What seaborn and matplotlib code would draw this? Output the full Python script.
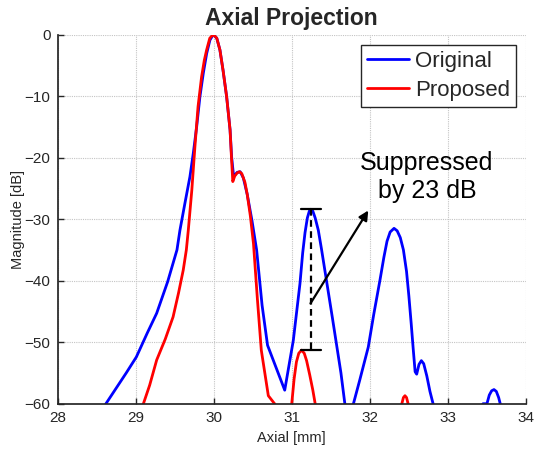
import numpy as np
import pandas as pd
import seaborn as sns
import matplotlib
matplotlib.use('Agg')
import matplotlib.pyplot as plt

# -------------------------------------------------------
# Axial projection data (dB)
# -------------------------------------------------------
orig_x = [28.50, 28.62, 28.75, 28.88, 29.01, 29.15, 29.27, 29.41, 29.53, 29.568,
          29.632, 29.696, 29.739, 29.782, 29.824, 29.867, 29.91, 29.952, 29.995, 30.04,
          30.08, 30.12, 30.166, 30.21, 30.23, 30.255, 30.275, 30.30, 30.34, 30.38,
          30.43, 30.49, 30.55, 30.62, 30.69, 30.91, 31.02, 31.105, 31.14, 31.17,
          31.20, 31.225, 31.245, 31.27, 31.30, 31.34, 31.38, 31.42, 31.47, 31.52,
          31.575, 31.63, 31.68, 31.735, 31.79, 31.87, 31.98, 32.05, 32.13, 32.18,
          32.22, 32.26, 32.31, 32.35, 32.39, 32.43, 32.47, 32.50, 32.53, 32.555,
          32.58, 32.60, 32.63, 32.66, 32.69, 32.73, 32.77, 32.81, 32.85, 33.10,
          33.45, 33.50, 33.53, 33.56, 33.59, 33.62, 33.65, 33.67, 33.72]
orig_db = [-63.0, -60.0, -57.5, -55.0, -52.4, -48.5, -45.3, -40.2, -35.0, -31.8,
           -27.4, -23.1, -19.3, -15.0, -10.1, -6.3, -3.1, -0.9, 0.0, -0.6,
           -2.5, -5.8, -10.1, -15.5, -19.9, -23.0, -22.8, -22.4, -22.3, -23.3,
           -26.0, -30.2, -35.0, -44.0, -50.5, -57.8, -49.7, -40.5, -35.5, -32.2,
           -29.8, -28.7, -28.4, -28.7, -29.8, -31.8, -34.8, -38.0, -42.0, -46.0,
           -50.5, -55.0, -60.0, -63.0, -60.0, -56.2, -50.8, -45.5, -39.9, -36.2,
           -33.6, -32.1, -31.5, -31.9, -33.0, -35.0, -38.5, -42.5, -47.0, -51.0,
           -54.8, -55.2, -53.6, -53.0, -53.5, -55.5, -58.0, -60.0, -63.0, -70.0,
           -60.0, -60.0, -58.6, -57.9, -57.7, -58.0, -59.0, -60.0, -62.0]

prop_x = [29.05, 29.10, 29.18, 29.27, 29.38, 29.48, 29.55, 29.61, 29.65, 29.675,
          29.72, 29.76, 29.80, 29.845, 29.88, 29.91, 29.95, 29.995, 30.04, 30.08,
          30.12, 30.166, 30.21, 30.228, 30.245, 30.27, 30.30, 30.33, 30.36, 30.40,
          30.43, 30.47, 30.51, 30.56, 30.61, 30.70, 30.78, 30.85, 30.95, 31.00,
          31.03, 31.06, 31.09, 31.125, 31.16, 31.19, 31.23, 31.27, 31.30, 31.35,
          32.35, 32.41, 32.43, 32.45, 32.47, 32.49, 32.55]
prop_db = [-62.0, -60.0, -57.0, -52.9, -49.5, -45.9, -42.0, -38.3, -35.0, -31.8,
           -25.3, -18.2, -11.7, -6.9, -4.2, -2.5, -0.6, 0.0, -0.6, -2.5,
           -5.8, -10.1, -15.5, -20.0, -23.9, -23.0, -22.5, -22.3, -22.6, -24.0,
           -26.0, -29.5, -34.0, -43.0, -51.3, -58.7, -60.0, -62.0, -62.0, -60.0,
           -56.0, -53.2, -51.8, -51.3, -51.8, -53.0, -55.3, -57.8, -60.0, -64.0,
           -64.0, -60.0, -59.0, -58.7, -59.0, -60.0, -64.0]

labels = ['Original', 'Proposed']
colors = {'Original': 'blue', 'Proposed': 'red'}

# annotation values
peak_orig = -28.4
peak_prop = -51.3
bracket_x = 31.245

df = pd.concat([
    pd.DataFrame({'axial': orig_x, 'mag': orig_db, 'method': 'Original'}),
    pd.DataFrame({'axial': prop_x, 'mag': prop_db, 'method': 'Proposed'}),
], ignore_index=True)

sns.set_theme(style='ticks')
plt.rcParams['font.family'] = ['Liberation Sans', 'DejaVu Sans']

fig = plt.figure(figsize=(5.34, 4.53), dpi=100)
ax = fig.add_axes([0.1077, 0.1088, 0.8773, 0.815])

sns.lineplot(data=df, x='axial', y='mag', hue='method', hue_order=labels,
             palette=colors, estimator=None, sort=False, lw=2, ax=ax)

# suppression bracket
ax.plot([bracket_x, bracket_x], [peak_orig, peak_prop], color='black',
        ls=(0, (3, 2)), lw=1.6, zorder=4)
for yy in [peak_orig, peak_prop]:
    ax.plot([bracket_x - 0.125, bracket_x + 0.125], [yy, yy], color='black',
            lw=1.6, zorder=4)
ax.annotate('', xy=(31.98, -28.6), xytext=(31.24, -43.7),
            arrowprops=dict(arrowstyle='-|>', color='black', lw=1.6,
                            mutation_scale=14, shrinkA=0, shrinkB=0))
ax.text(32.73, -23.2, 'Suppressed\nby 23 dB', ha='center', va='center',
        fontsize=18, color='black', linespacing=1.2)

ax.set_xlim(28, 34)
ax.set_ylim(-60, 0)
ax.set_xticks(range(28, 35))
ax.set_yticks(range(-60, 1, 10))
ax.grid(True, color='#c4c4c4', ls=(0, (1, 1)), lw=0.8)
ax.set_axisbelow(True)

ax.spines['top'].set_visible(False)
ax.spines['right'].set_visible(False)
ax.spines['left'].set_color('#262626')
ax.spines['bottom'].set_color('#262626')
ax.tick_params(direction='in', length=4, width=1, colors='#262626',
               labelsize=11, pad=5)

ax.set_xlabel('Axial [mm]', fontsize=10.5, color='#262626')
ax.set_ylabel('Magnitude [dB]', fontsize=10.5, color='#262626')
ax.xaxis.label.set_va('center')
ax.yaxis.label.set_va('center')
ax.xaxis.set_label_coords(0.5, -0.093)
ax.yaxis.set_label_coords(-0.0843, 0.5)
ax.set_title('Axial Projection', fontsize=16.5, fontweight='bold', pad=7)

handles, lbls = ax.get_legend_handles_labels()
leg = ax.legend(handles, lbls, loc='upper right', bbox_to_anchor=(0.9787, 0.9716),
                borderaxespad=0, fontsize=16, frameon=True, fancybox=False,
                edgecolor='#262626', handlelength=1.9, handletextpad=0.25,
                borderpad=0.27, labelspacing=0.37)
leg.get_frame().set_linewidth(1.0)
leg.get_frame().set_alpha(1)

fig.savefig('out.png', dpi=100)
